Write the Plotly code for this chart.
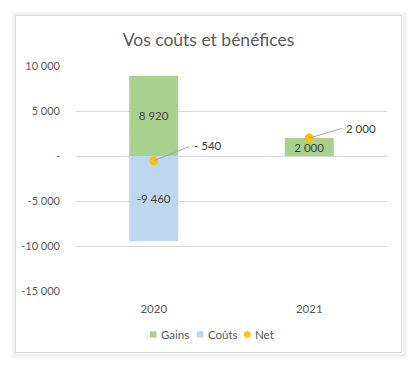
import plotly.graph_objects as go

# ---- data ----
years = ["2020", "2021"]
gains = [8920, 2000]
couts = [-9460, 0]
net = [-540, 2000]
y_ticks = [-15000, -10000, -5000, 0, 5000, 10000]
series_names = ["Gains", "Coûts", "Net"]
series_colors = ["#A9D18E", "#BDD7EE", "#FFC000"]

def fmt(v):
    if v == 0:
        return "-"
    s = f"{abs(v):,}".replace(",", " ")
    return ("-" + s) if v < 0 else s

def fmt_net(v):
    s = f"{abs(v):,}".replace(",", " ")
    return ("- " + s) if v < 0 else s

FONT = "Lato"
TXT = "#404040"
AX = "#595959"

# page has an 8px body margin -> work in page coords, convert
OFF = 8
W, H = 417 - OFF, 369 - OFF
PL, PR, PT, PB = 76, 387, 66, 291          # plot area in page coords
L, R, T, B = PL - OFF, W - (PR - OFF), PT - OFF, H - (PB - OFF)
pw, ph = PR - PL, PB - PT

def px(x):
    return (x - PL) / pw

def py(y):
    return (PB - y) / ph

fig = go.Figure()
fig.add_trace(go.Bar(
    x=years, y=gains, name=series_names[0], marker=dict(color=series_colors[0], line=dict(width=0)),
    text=[fmt(v) for v in gains], textposition="inside", insidetextanchor="middle",
    constraintext="none", cliponaxis=False,
    textfont=dict(color=TXT, size=11.5, family=FONT), hoverinfo="skip"))
fig.add_trace(go.Bar(
    x=years, y=couts, name=series_names[1], marker=dict(color=series_colors[1], line=dict(width=0)),
    text=[fmt(v) if v != 0 else "" for v in couts], textposition="inside", insidetextanchor="middle",
    constraintext="none",
    textfont=dict(color=TXT, size=11.5, family=FONT), hoverinfo="skip"))
fig.add_trace(go.Scatter(
    x=years, y=net, name=series_names[2], mode="markers",
    marker=dict(color=series_colors[2], size=9), hoverinfo="skip"))

# net labels with leader lines (pixel offsets)
offsets = [(37, -15), (34, -10)]
for i, (v, (dx, dy)) in enumerate(zip(net, offsets)):
    fig.add_annotation(x=i, y=v, ax=dx, ay=dy, axref="pixel", ayref="pixel",
                       text="", showarrow=True, arrowhead=0, arrowwidth=1,
                       arrowcolor="#A6A6A6", standoff=0)
    fig.add_annotation(x=i, y=v, xshift=dx + 3, yshift=-dy, text="", showarrow=True,
                       ax=-3, ay=0, axref="pixel", ayref="pixel", arrowhead=0,
                       arrowwidth=1, arrowcolor="#A6A6A6", standoff=0)
    fig.add_annotation(x=i, y=v, xshift=dx + 1, yshift=-dy, text=fmt_net(v),
                       showarrow=False, xanchor="left", yanchor="middle",
                       font=dict(color=TXT, size=11.5, family=FONT))

# manual legend (tight Excel-like spacing)
leg_x = [150, 197, 244]
leg_y = 334.5
for name, col, lx in zip(series_names, series_colors, leg_x):
    shp = "circle" if name == "Net" else "rect"
    fig.add_shape(type=shp, xref="paper", yref="paper",
                  x0=px(lx), x1=px(lx + 6.5), y0=py(leg_y + 3.2), y1=py(leg_y - 3.2),
                  line=dict(width=0), fillcolor=col)
    fig.add_annotation(xref="paper", yref="paper", x=px(lx + 8.5), y=py(leg_y),
                       text=name, showarrow=False, xanchor="left", yanchor="middle",
                       font=dict(color=AX, size=11.5, family=FONT))

# card with soft shadow
x0, x1, y0, y1 = 15.5, 401.5, 15.5, 352.5
for i, a in enumerate([0.012, 0.018, 0.025, 0.035, 0.045]):
    d = 5 - i
    fig.add_shape(type="rect", xref="paper", yref="paper",
                  x0=px(x0 - d + 1), x1=px(x1 + d + 1), y0=py(y1 + d + 1), y1=py(y0 - d + 1),
                  line=dict(color=f"rgba(0,0,0,{a})", width=2), fillcolor="rgba(0,0,0,0)",
                  layer="below")
fig.add_shape(type="rect", xref="paper", yref="paper",
              x0=px(x0), x1=px(x1), y0=py(y1), y1=py(y0),
              line=dict(color="#DADADA", width=1), fillcolor="white", layer="below")

fig.update_layout(
    width=W, height=H,
    margin=dict(l=L, r=R, t=T, b=B),
    paper_bgcolor="white", plot_bgcolor="rgba(0,0,0,0)",
    barmode="relative", bargap=0.685,
    title=dict(text="Vos coûts et bénéfices", x=(208.5 - OFF) / W, xref="container", xanchor="center",
               y=1 - (40 - OFF) / H, yref="container", yanchor="middle",
               font=dict(family=FONT, size=17.5, color=AX)),
    font=dict(family=FONT, color=AX, size=11),
    showlegend=False,
    xaxis=dict(type="category", range=[-0.5, 1.5], showgrid=False, showline=False,
               ticks="", tickfont=dict(size=11.5, color=AX, family=FONT), ticklabelstandoff=9),
    yaxis=dict(range=[-15000, 10000], tickvals=y_ticks, ticktext=[fmt(v) for v in y_ticks],
               showgrid=True, gridcolor="#D9D9D9", gridwidth=1, zeroline=False,
               showline=False, ticks="", ticklabelstandoff=15,
               tickfont=dict(size=11, color=AX, family=FONT)),
)

fig.write_html("out.html")
